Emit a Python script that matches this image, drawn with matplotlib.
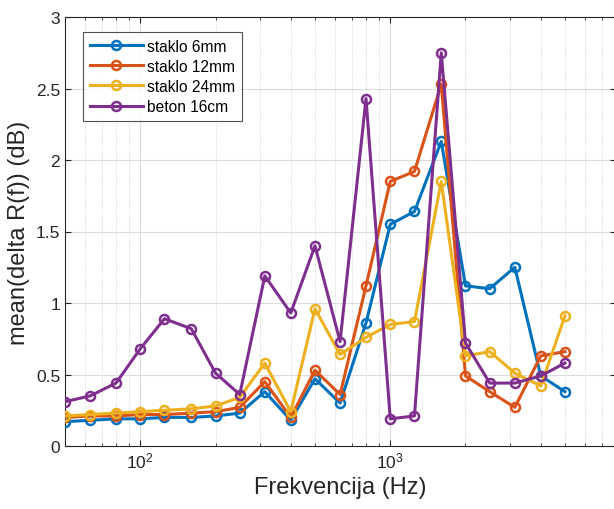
import numpy as np
import matplotlib
matplotlib.use("Agg")
import matplotlib.pyplot as plt
from matplotlib.ticker import LogLocator, NullFormatter

plt.rcParams["font.family"] = ["Liberation Sans", "DejaVu Sans"]

freq = [50, 63, 80, 100, 125, 160, 200, 250, 315, 400, 500, 630, 800,
        1000, 1250, 1600, 2000, 2500, 3150, 4000, 5000]

staklo_6mm = [0.17, 0.18, 0.19, 0.19, 0.20, 0.20, 0.21, 0.23, 0.38, 0.18, 0.47,
              0.30, 0.86, 1.55, 1.64, 2.13, 1.12, 1.10, 1.25, 0.49, 0.38]
staklo_12mm = [0.20, 0.21, 0.21, 0.22, 0.22, 0.23, 0.24, 0.27, 0.45, 0.20, 0.53,
               0.36, 1.12, 1.85, 1.92, 2.53, 0.49, 0.38, 0.27, 0.63, 0.66]
staklo_24mm = [0.21, 0.22, 0.23, 0.24, 0.25, 0.26, 0.28, 0.34, 0.58, 0.24, 0.96,
               0.64, 0.76, 0.85, 0.87, 1.85, 0.63, 0.66, 0.51, 0.42, 0.91]
beton_16cm = [0.31, 0.35, 0.44, 0.68, 0.89, 0.82, 0.51, 0.36, 1.19, 0.93, 1.40,
              0.73, 2.43, 0.19, 0.21, 2.75, 0.72, 0.44, 0.44, 0.49, 0.58]

labels = ["staklo 6mm", "staklo 12mm", "staklo 24mm", "beton 16cm"]
colors = ["#0072BD", "#D95319", "#EDB120", "#7E2F8E"]

fig = plt.figure(figsize=(6.14, 5.1), dpi=100)
ax = fig.add_axes([65 / 614, 63 / 510, 551 / 614, 429 / 510])

for y, lab, c in zip([staklo_6mm, staklo_12mm, staklo_24mm, beton_16cm], labels, colors):
    ax.plot(freq, y, "-o", color=c, lw=2.2, ms=6.5, mew=1.8,
            markerfacecolor="none", label=lab, zorder=3)

ax.set_xscale("log")
ax.set_xlim(50, 8000)
ax.set_ylim(0, 3)
ax.set_yticks([0, 0.5, 1, 1.5, 2, 2.5, 3])
ax.set_yticklabels(["0", "0.5", "1", "1.5", "2", "2.5", "3"])
ax.xaxis.set_major_locator(LogLocator(base=10))
ax.xaxis.set_minor_locator(LogLocator(base=10, subs=np.arange(2, 10)))
ax.xaxis.set_minor_formatter(NullFormatter())

ax.grid(True, which="major", color="#dcdcdc", lw=0.8, zorder=0)
ax.grid(True, which="minor", axis="x", color="#c8c8c8", lw=0.6, ls=":", zorder=0)
ax.set_axisbelow(True)

ax.tick_params(which="both", direction="in", top=True, right=True,
               colors="#262626", labelsize=12.5)
ax.tick_params(which="major", length=4)
ax.tick_params(which="minor", length=2)
for s in ax.spines.values():
    s.set_color("#262626")
    s.set_linewidth(0.8)

ax.set_xlabel("Frekvencija (Hz)", fontsize=17, color="#262626")
ax.set_ylabel("mean(delta R(f)) (dB)", fontsize=17, color="#262626")

leg = ax.legend(loc="upper left", bbox_to_anchor=(0.032, 0.966), fontsize=11.2,
                frameon=True, fancybox=False, edgecolor="#262626",
                handlelength=3.4, borderpad=0.45, labelspacing=0.33,
                handletextpad=0.3, borderaxespad=0)
leg.get_frame().set_linewidth(0.8)

fig.savefig("out.png", dpi=100)
